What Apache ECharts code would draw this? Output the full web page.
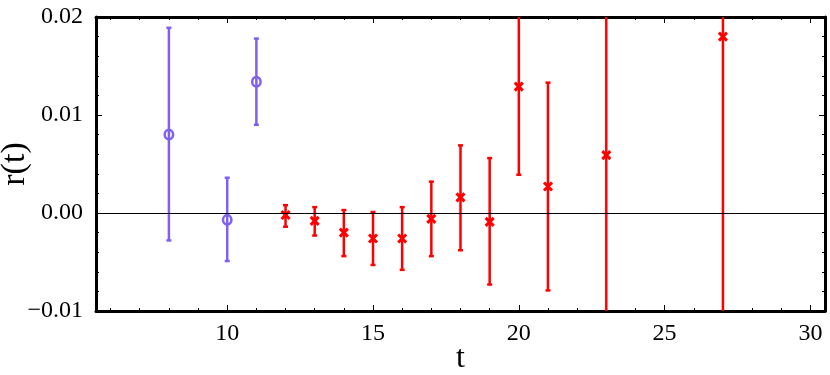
<!DOCTYPE html>
<html>
  <head>
    <meta charset="utf-8">
    <title>r(t)</title>
    <style>
        *{ padding: 0; margin: 0; }
        body{ background-color: #ffffff; }
        #chart{ width: 830px; height: 375px; }
    </style>
  </head>
  <body>
    <div id="chart"></div>
    <script type="text/javascript" src="https://cdn.jsdelivr.net/npm/echarts@6/dist/echarts.min.js"></script>
    <script type="text/javascript">
        // blue points (circles)
        var tBlue  = [8, 10, 11];
        var rBlue  = [0.0080, -0.0007, 0.0134];
        var loBlue = [-0.0028, -0.0049, 0.0090];
        var hiBlue = [0.0189, 0.0036, 0.0178];

        // red points (crosses)
        var tRed  = [12, 13, 14, 15, 16, 17, 18, 19, 20, 21, 23, 27];
        var rRed  = [-0.0002, -0.0008, -0.0020, -0.0026, -0.0026, -0.0006, 0.0016, -0.0009, 0.0129, 0.0027, 0.0059, 0.0180];
        var loRed = [-0.0014, -0.0023, -0.0044, -0.0053, -0.0058, -0.0044, -0.0038, -0.0073, 0.0039, -0.0079, -0.0200, -0.0200];
        var hiRed = [0.0008, 0.0006, 0.0003, 0.0001, 0.0006, 0.0032, 0.0069, 0.0056, 0.0219, 0.0133, 0.0320, 0.0560];

        var xMajor = [10, 15, 20, 25, 30];
        var xMinor = [6, 7, 8, 9, 11, 12, 13, 14, 16, 17, 18, 19, 21, 22, 23, 24, 26, 27, 28, 29];
        var yTicks = [-0.01, 0.00, 0.01, 0.02];

        var blueColor = '#7f60f2';
        var redColor = '#ff0000';

        function build(t, r, lo, hi) {
            var out = [];
            for (var i = 0; i < t.length; i++) out.push([t[i], r[i], lo[i], hi[i]]);
            return out;
        }

        function makeRender(color, marker) {
            return function (params, api) {
                var x = api.value(0);
                var p = api.coord([x, api.value(1)]);
                var pl = api.coord([x, api.value(2)]);
                var ph = api.coord([x, api.value(3)]);
                var w = 2.5, cap = 2.5;
                var st = { stroke: color, lineWidth: w, fill: null };
                var kids = [
                    { type: 'line', shape: { x1: pl[0], y1: pl[1], x2: ph[0], y2: ph[1] }, style: st },
                    { type: 'line', shape: { x1: pl[0] - cap, y1: pl[1], x2: pl[0] + cap, y2: pl[1] }, style: st },
                    { type: 'line', shape: { x1: ph[0] - cap, y1: ph[1], x2: ph[0] + cap, y2: ph[1] }, style: st }
                ];
                if (marker === 'circle') {
                    kids.push({ type: 'ellipse', shape: { cx: p[0], cy: p[1], rx: 4.2, ry: 4.8 },
                        style: { stroke: color, lineWidth: 2.5, fill: null } });
                } else {
                    var s = 4;
                    kids.push({ type: 'line', shape: { x1: p[0] - s, y1: p[1] - s, x2: p[0] + s, y2: p[1] + s }, style: { stroke: color, lineWidth: 3 } });
                    kids.push({ type: 'line', shape: { x1: p[0] - s, y1: p[1] + s, x2: p[0] + s, y2: p[1] - s }, style: { stroke: color, lineWidth: 3 } });
                }
                return { type: 'group', children: kids };
            };
        }

        var fontFam = 'Liberation Serif';
        var frameLine = { show: true, onZero: false, lineStyle: { color: '#000', width: 3 } };
        var noLine = { show: false, onZero: false };

        function xAxisOf(pos, ticks, len, withLine, labels) {
            var a = {
                type: 'value', position: pos, min: 5.5, max: 30.5,
                axisLine: withLine ? frameLine : noLine,
                axisTick: { show: true, inside: true, length: len, customValues: ticks,
                    lineStyle: { color: '#000', width: 1 } },
                splitLine: { show: false },
                axisLabel: { show: false }
            };
            if (labels) {
                a.axisLabel = { show: true, customValues: ticks, fontFamily: fontFam, fontSize: 24,
                    color: '#000', margin: 11 };
                a.name = 't';
                a.nameLocation = 'middle';
                a.nameGap = 32;
                a.nameMoveOverlap = false;
                a.nameTextStyle = { fontFamily: fontFam, fontSize: 32, color: '#000' };
            }
            return a;
        }

        function yAxisOf(pos, labels) {
            var a = {
                type: 'value', position: pos, min: -0.01, max: 0.02, interval: 0.01,
                axisLine: frameLine,
                axisTick: { show: true, inside: true, length: 6, lineStyle: { color: '#000', width: 1 } },
                minorTick: { show: true, splitNumber: 5, length: 3, lineStyle: { color: '#000', width: 1 } },
                splitLine: { show: false },
                axisLabel: { show: false }
            };
            if (labels) {
                a.axisLabel = { show: true, customValues: yTicks, fontFamily: fontFam, fontSize: 24,
                    color: '#000', margin: 13,
                    formatter: function (v) { return v.toFixed(2).replace('-', '\u2212'); } };
                a.name = 'r(t)';
                a.nameLocation = 'middle';
                a.nameGap = 64;
                a.nameRotate = 90;
                a.nameMoveOverlap = false;
                a.nameTextStyle = { fontFamily: fontFam, fontSize: 34, color: '#000' };
            }
            return a;
        }

        var chart = echarts.init(document.getElementById('chart'));
        var option = {
            animation: false,
            grid: { left: 96, right: 5, top: 17, bottom: 64, outerBoundsMode: 'none', containLabel: false },
            xAxis: [
                xAxisOf('bottom', xMajor, 6, true, true),
                xAxisOf('bottom', xMinor, 3, false, false),
                xAxisOf('top', xMajor, 6, true, false),
                xAxisOf('top', xMinor, 3, false, false)
            ],
            yAxis: [yAxisOf('left', true), yAxisOf('right', false)],
            series: [{
                type: 'line', data: [], silent: true,
                markLine: { symbol: 'none', silent: true, label: { show: false },
                    lineStyle: { color: '#000', width: 1, type: 'solid' },
                    data: [{ yAxis: 0 }] }
            }, {
                type: 'custom', clip: true, renderItem: makeRender(blueColor, 'circle'),
                data: build(tBlue, rBlue, loBlue, hiBlue), encode: { x: 0, y: 1 }
            }, {
                type: 'custom', clip: true, renderItem: makeRender(redColor, 'cross'),
                data: build(tRed, rRed, loRed, hiRed), encode: { x: 0, y: 1 }
            }]
        };
        chart.setOption(option);
    </script>
  </body>
</html>
